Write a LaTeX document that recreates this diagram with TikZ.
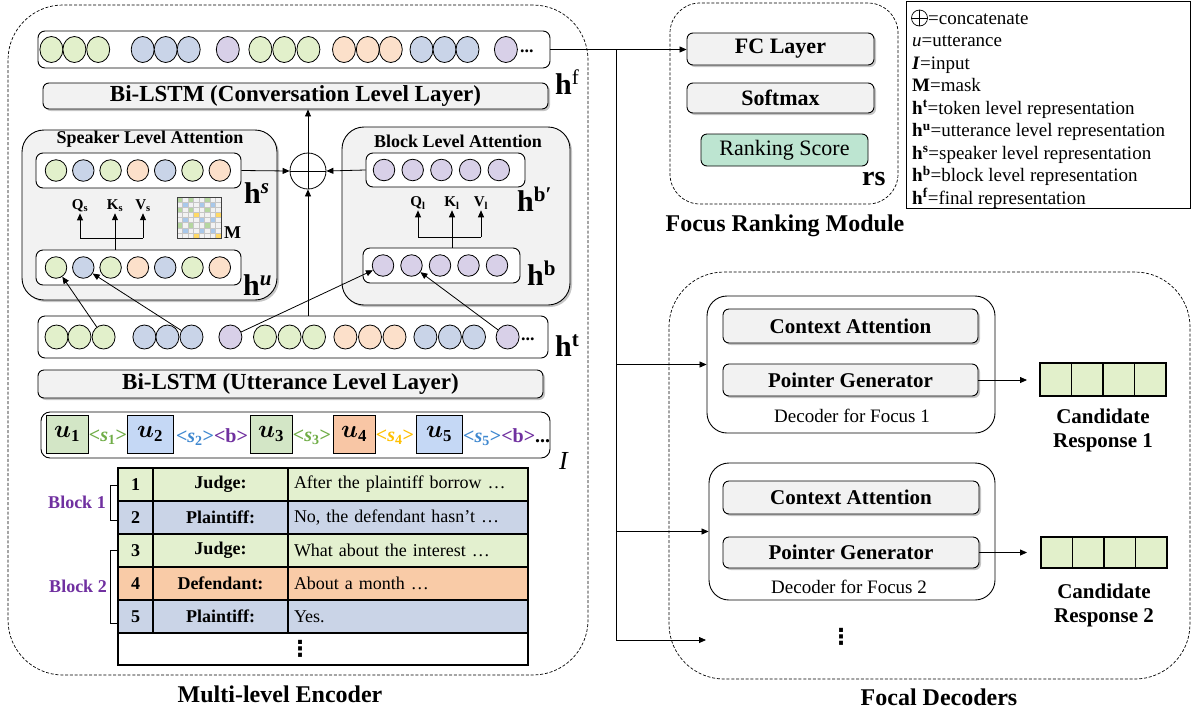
\documentclass[tikz,border=0pt]{standalone}
\usepackage{fontspec}
\setmainfont{Liberation Serif}
\newfontfamily\dvfont{DejaVu Sans}
\usepackage{amsmath}
\usetikzlibrary{arrows.meta,shadows,shapes.geometric,calc}
\definecolor{cgreen}{HTML}{E2F0CB}
\definecolor{cblue}{HTML}{C9D4E8}
\definecolor{cpurple}{HTML}{D8D0E8}
\definecolor{corange}{HTML}{FCE0CA}
\definecolor{boxgray}{HTML}{F2F2F2}
\definecolor{ugreen}{HTML}{D3E6C6}
\definecolor{ublue}{HTML}{C5D8F5}
\definecolor{uorange}{HTML}{F8C6A5}
\definecolor{tgreen}{HTML}{E3F0CF}
\definecolor{tblue}{HTML}{CAD4E7}
\definecolor{torange}{HTML}{F9CBA7}
\definecolor{rankc}{HTML}{BDE5D1}
\definecolor{sgreen}{HTML}{70AD47}
\definecolor{sblue}{HTML}{3F88D0}
\definecolor{spurple}{HTML}{7030A0}
\definecolor{syellow}{HTML}{FFC000}
\definecolor{mgreen}{HTML}{B5D6A0}
\definecolor{mblue}{HTML}{A9C8EA}
\definecolor{myellow}{HTML}{FFD966}
\newcommand\fsz[2]{\fontsize{#1}{#2}\selectfont}
\newcommand\hlab[1]{\textbf{h}\textsuperscript{#1}}
\tikzset{
  arr/.style={-{Triangle[length=7pt,width=6pt]}, line width=0.8pt},
  dashbox/.style={draw, dash pattern=on 3pt off 1.8pt, line width=0.7pt, inner sep=0pt},
  shad/.style={drop shadow={shadow xshift=2pt, shadow yshift=-2pt, fill=black!50, opacity=0.45}},
  graybox/.style={draw, fill=boxgray, rounded corners=6pt, line width=0.9pt, inner sep=0pt, shad, font={\fsz{22}{26}\bfseries}},
  rowbox/.style={draw, fill=white, rounded corners=7pt, line width=0.9pt, inner sep=0pt},
  attbox/.style={draw, fill=boxgray, rounded corners=22pt, line width=0.9pt, inner sep=0pt, shad},
  decbox/.style={draw, fill=white, rounded corners=20pt, line width=0.9pt, inner sep=0pt},
  fdot/.style={ellipse, draw, line width=0.8pt, minimum width=23pt, minimum height=26pt, inner sep=0pt},
  tdot/.style={ellipse, draw, line width=0.8pt, minimum width=23pt, minimum height=24pt, inner sep=0pt},
  sdot/.style={circle, draw, line width=0.8pt, minimum size=21.5pt, inner sep=0pt},
  ubox/.style={draw, line width=1pt, minimum height=38pt, inner sep=0pt, font={\fsz{24}{24}}},
  cell/.style={draw, line width=1.1pt, minimum height=33pt, inner sep=0pt, font={\fsz{18}{20}}},
  rcell/.style={draw, fill=cgreen, line width=1.1pt, minimum width=31.5pt, inner sep=0pt},
  lab/.style={anchor=base west, inner sep=0pt},
  hl/.style={lab, font={\fsz{30}{30}}},
  tag/.style={inner sep=0pt, font={\fsz{20}{20}\bfseries}},
  qkv/.style={inner sep=1pt, font={\fsz{15}{15}\bfseries}},
  lg/.style={lab, font={\fsz{19}{22}}},
  title/.style={font={\fsz{24}{26}\bfseries}, inner sep=0pt},
  sub/.style={font={\fsz{18}{20}\bfseries}, inner sep=0pt},
  vd/.style={inner sep=0pt, font={\dvfont\bfseries\fsz{22}{22}}},
}
\begin{document}
\begin{tikzpicture}[x=1pt,y=-1pt]
\useasboundingbox (0,0) rectangle (1194,713);

% ================= Encoder frame =================
\node[dashbox, rounded corners=55pt, minimum width=580pt, minimum height=670pt] (enc) at (298,340) {};
\node[title] (enclab) at (280,694) {Multi-level Encoder};

% h^f row
\node[rowbox, minimum width=512pt, minimum height=37pt] (hf) at (294,49.5) {};
\foreach \x/\c [count=\i] in {51.4/cgreen,74.4/cgreen,98.2/cgreen,142.7/cblue,165.7/cblue,188.7/cblue,227.8/cpurple,260.4/cgreen,284.2/cgreen,308.4/cgreen,344/corange,367.8/corange,390.8/corange,421.5/cblue,444.5/cblue,467.5/cblue,505.9/cpurple}
  \node[fdot, fill=\c] (f\i) at (\x,49.5) {};
\node[lab, font={\fsz{18}{18}\bfseries}] (fdots) at (520,52) {...};
\node[hl] (hflab) at (555,94) {\hlab{f}};

\node[graybox, font={\fsz{23}{26}\bfseries}, minimum width=505pt, minimum height=26pt] (conv) at (295.5,96) {Bi-LSTM (Conversation Level Layer)};

% Speaker level attention
\node[attbox, minimum width=255pt, minimum height=170pt] (spk) at (149.5,215) {};
\node[sub] (spkt) at (150,139) {Speaker Level Attention};
\node[rowbox, minimum width=205pt, minimum height=35pt] (hs) at (138.5,170.5) {};
\foreach \c [count=\i] in {cgreen,cblue,cgreen,corange,cblue,cgreen,corange}
  \node[sdot, fill=\c] (s\i) at ({56+27.3*(\i-1)},170.5) {};
\node[hl] (hslab) at (244,203) {\hlab{\textbf{\textit{s}}}};
\node[rowbox, minimum width=205pt, minimum height=35pt] (hu) at (138.5,267.5) {};
\foreach \c [count=\i] in {cgreen,cblue,cgreen,corange,cblue,cgreen,corange}
  \node[sdot, fill=\c] (u\i) at ({56+27.3*(\i-1)},267.5) {};
\node[hl] (hulab) at (243,295) {\hlab{\textbf{\textit{u}}}};
\node[qkv] (Qs) at (80,206) {Q\textsubscript{s}};
\node[qkv] (Ks) at (115,206) {K\textsubscript{s}};
\node[qkv] (Vs) at (143,206) {V\textsubscript{s}};
\coordinate (sq) at (80,238);
\coordinate (sk) at (115,238);
\coordinate (sv) at (143,238);
\draw[line width=0.8pt] (hu.north -| sk) -- (sk);
\draw[line width=0.8pt] (sq) -- (sv);
\draw[arr] (sq) -- (sq |- Qs.south);
\draw[arr] (sk) -- (sk |- Ks.south);
\draw[arr] (sv) -- (sv |- Vs.south);
% mask
\foreach \i in {1,...,8}{
  \foreach \j in {1,...,8}{
    \pgfmathtruncatemacro\spa{{1,2,1,3,2,1,2,3}[\i-1]}
    \pgfmathtruncatemacro\spb{{1,2,1,3,2,1,2,3}[\j-1]}
    \ifnum\spa=\spb
      \ifcase\spa\or\def\mc{mgreen}\or\def\mc{mblue}\or\def\mc{myellow}\fi
      \fill[\mc] ({177+5.5*(\j-1)},{197+5.125*(\i-1)}) rectangle ++(5.5,5.125);
    \fi
  }
}
\foreach \k in {1,...,7}{
  \draw[gray!45, line width=0.3pt] ({177+5.5*\k},197) -- ({177+5.5*\k},238);
  \draw[gray!45, line width=0.3pt] (177,{197+5.125*\k}) -- (221,{197+5.125*\k});
}
\draw[black!75, line width=0.5pt] (177,197) rectangle (221,238);
\node[lab, font={\fsz{18}{18}\bfseries}] (mlab) at (224,238) {M};

% Block level attention
\node[attbox, minimum width=228pt, minimum height=178pt] (blk) at (456,216) {};
\node[sub] (blkt) at (458,141) {Block Level Attention};
\node[rowbox, minimum width=159pt, minimum height=34pt] (hbp) at (445.5,170) {};
\foreach \i in {1,...,5}
  \node[sdot, fill=cpurple] (p\i) at ({384+28.7*(\i-1)},170) {};
\node[hl] (hbplab) at (517,211) {\hlab{\textbf{b\char"2032}}};
\node[rowbox, minimum width=157pt, minimum height=35pt] (hb) at (441.5,265.5) {};
\foreach \i in {1,...,5}
  \node[sdot, fill=cpurple] (b\i) at ({383+28.5*(\i-1)},265.5) {};
\node[hl] (hblab) at (527,285) {\hlab{\textbf{b}}};
\node[qkv] (Ql) at (418,203) {Q\textsubscript{l}};
\node[qkv] (Kl) at (452,203) {K\textsubscript{l}};
\node[qkv] (Vl) at (481,203) {V\textsubscript{l}};
\coordinate (bq) at (418,237);
\coordinate (bk) at (452,237);
\coordinate (bv) at (481,237);
\draw[line width=0.8pt] (hb.north -| bk) -- (bk);
\draw[line width=0.8pt] (bq) -- (bv);
\draw[arr] (bq) -- (bq |- Ql.south);
\draw[arr] (bk) -- (bk |- Kl.south);
\draw[arr] (bv) -- (bv |- Vl.south);

% h^t row
\node[rowbox, minimum width=510pt, minimum height=42pt] (ht) at (293,337) {};
\foreach \x/\c [count=\i] in {56.5/cgreen,79.5/cgreen,103.6/cgreen,144.4/cblue,167.4/cblue,191.5/cblue,230.4/cpurple,265/cgreen,289.6/cgreen,314/cgreen,345.4/corange,370/corange,394.5/corange,425.4/cblue,449.9/cblue,474/cblue,507.6/cpurple}
  \node[tdot, fill=\c] (t\i) at (\x,337) {};
\node[lab, font={\fsz{18}{18}\bfseries}] (tdots) at (521,340) {...};
\node[hl] (htlab) at (555,356) {\hlab{\textbf{t}}};

% concatenation
\node[circle, draw, line width=0.8pt, minimum size=36pt, inner sep=0pt] (cat) at (308,171) {};
\draw[line width=0.8pt] (cat.north) -- (cat.south);
\draw[line width=0.8pt] (cat.west) -- (cat.east);
\draw[arr] (hs.east) -- (cat.west);
\draw[arr] (hbp.west) -- (cat.east);
\draw[arr] (cat.south |- ht.north) -- (cat.south);
\draw[arr] (cat.north) -- (cat.north |- conv.south);

% h^t -> attention
\draw[arr] (t3) -- (u1);
\draw[arr] (t6) -- (u2);
\draw[arr] (t7) -- (b1);
\draw[arr] (t17) -- (b2);

\node[graybox, font={\fsz{23}{26}\bfseries}, minimum width=505pt, minimum height=28pt] (utt) at (290.5,384) {Bi-LSTM (Utterance Level Layer)};

% Input row
\node[rowbox, rounded corners=9pt, minimum width=509pt, minimum height=46pt] (inp) at (295.5,435) {};
\node[ubox, fill=ugreen, minimum width=42pt] (ub1) at (67,434) {$\boldsymbol{u}_{\mathbf{1}}$};
\node[ubox, fill=ublue, minimum width=46pt] (ub2) at (150,434) {$\boldsymbol{u}_{\mathbf{2}}$};
\node[ubox, fill=ugreen, minimum width=42pt] (ub3) at (271,434) {$\boldsymbol{u}_{\mathbf{3}}$};
\node[ubox, fill=uorange, minimum width=42pt] (ub4) at (354,434) {$\boldsymbol{u}_{\mathbf{4}}$};
\node[ubox, fill=ublue, minimum width=46pt] (ub5) at (439,434) {$\boldsymbol{u}_{\mathbf{5}}$};
\node[tag, text=sgreen] (tg1) at (108,437) {<\textit{s}\textsubscript{1}>};
\node[tag] (tg2) at (212,437) {\textcolor{sblue}{<\textit{s}\textsubscript{2}>}\textcolor{spurple}{<b>}};
\node[tag, text=sgreen] (tg3) at (312,437) {<\textit{s}\textsubscript{3}>};
\node[tag, text=syellow] (tg4) at (395,437) {<\textit{s}\textsubscript{4}>};
\node[tag, anchor=west] (tg5) at (463,437) {\textcolor{sblue}{<\textit{s}\textsubscript{5}>}\textcolor{spurple}{<b>}...};
\node[lab, font={\fsz{26}{26}\itshape}] (ilab) at (559,469) {I};

% Table
\foreach \r/\c/\n/\s/\t in {1/tgreen/1/Judge:/{After the plaintiff borrow …},2/tblue/2/Plaintiff:/{No, the defendant hasn’t …},3/tgreen/3/Judge:/{What about the interest …},4/torange/4/Defendant:/{About a month …},5/tblue/5/Plaintiff:/{Yes.}}{
  \node[cell, fill=\c, minimum width=35pt] (n\r) at (135.5,{484.5+33*(\r-1)}) {\textbf{\n}};
  \node[cell, fill=\c, minimum width=135pt] (sp\r) at (220.5,{484.5+33*(\r-1)}) {\textbf{\s}};
  \node[cell, fill=\c, minimum width=240pt, text width=228pt, inner xsep=6pt, align=left] (tx\r) at (408,{484.5+33*(\r-1)}) {\t};
}
\node[cell, fill=white, minimum width=410pt, minimum height=32pt] (trow) at (323,649) {};
\node[vd] (tvd) at (300,649) {⋮};
\draw[line width=0.8pt] (117,485) -- (110,485) -- (110,520) -- (117,520);
\draw[line width=0.8pt] (117,550) -- (110,550) -- (110,623) -- (117,623);
\node[sub, text=spurple] (blk1) at (77,502) {Block 1};
\node[sub, text=spurple] (blk2) at (78,586) {Block 2};

% ================= Focus ranking module =================
\node[dashbox, rounded corners=30pt, minimum width=228pt, minimum height=201pt] (frm) at (784,103.5) {};
\node[graybox, minimum width=187pt, minimum height=32pt] (fc) at (780.5,49) {FC Layer};
\node[graybox, minimum width=187pt, minimum height=30pt] (sm) at (780.5,98) {Softmax};
\node[draw, fill=rankc, rounded corners=6pt, line width=0.9pt, minimum width=167pt, minimum height=32pt, font={\fsz{22}{26}}] (rank) at (784.5,150) {Ranking Score};
\node[lab, font={\fsz{28}{28}\bfseries}] (rslab) at (862,185) {rs};
\node[title] (frmlab) at (785,226) {Focus Ranking Module};

% trunk
\coordinate (trunkTop) at (616,49.5);
\coordinate (trunkBot) at (616,640);
\coordinate (dec3in) at (706,640);
\draw[arr] (hf.east) -- (hf.east -| fc.west);
\draw[line width=0.8pt] (trunkTop) -- (trunkBot);

% ================= Focal decoders =================
\node[dashbox, rounded corners=55pt, minimum width=521pt, minimum height=407pt] (fd) at (929.5,475.5) {};
\node[title] (fdlab) at (939,697) {Focal Decoders};

\node[decbox, minimum width=288pt, minimum height=137pt] (dec1) at (851,364.5) {};
\node[graybox, font={\fsz{21}{24}\bfseries}, minimum width=255pt, minimum height=34pt] (ca1) at (850.5,326) {Context Attention};
\node[graybox, font={\fsz{21}{24}\bfseries}, minimum width=255pt, minimum height=32pt] (pg1) at (850.5,380) {Pointer Generator};
\node[inner sep=0pt, font={\fsz{19}{22}}] (d1lab) at (852,416) {Decoder for Focus 1};

\node[decbox, minimum width=286pt, minimum height=137pt] (dec2) at (852,531.5) {};
\node[graybox, font={\fsz{21}{24}\bfseries}, minimum width=256pt, minimum height=33pt] (ca2) at (851,497.5) {Context Attention};
\node[graybox, font={\fsz{21}{24}\bfseries}, minimum width=256pt, minimum height=31pt] (pg2) at (851,552.5) {Pointer Generator};
\node[inner sep=0pt, font={\fsz{19}{22}}] (d2lab) at (849,587) {Decoder for Focus 2};

\node[vd] (dvd) at (841,637) {⋮};

\draw[arr] (trunkTop |- dec1.west) -- (dec1.west);
\draw[arr] (trunkTop |- dec2.west) -- (dec2.west);
\draw[arr] (trunkBot) -- (dec3in);

% responses
\foreach \k in {1,...,4}{
  \node[rcell, minimum height=33pt] (ra\k) at ({1055.75+31.5*(\k-1)},379.5) {};
  \node[rcell, minimum height=31pt] (rb\k) at ({1056.75+31.5*(\k-1)},552.5) {};
}
\coordinate (r1in) at (1027,380);
\coordinate (r2in) at (1027,552.5);
\draw[arr] (pg1.east) -- (r1in);
\draw[arr] (pg2.east) -- (r2in);
\node[align=center, inner sep=0pt, font={\fsz{21}{24}\bfseries}] (cr1) at (1103,430) {Candidate\\Response 1};
\node[align=center, inner sep=0pt, font={\fsz{21}{24}\bfseries}] (cr2) at (1104,605) {Candidate\\Response 2};

% ================= Legend =================
\node[draw, line width=1pt, minimum width=284pt, minimum height=207pt, inner sep=0pt] (leg) at (1048,104.5) {};
\node[circle, draw, line width=0.7pt, minimum size=16pt, inner sep=0pt] (lgcat) at (919.5,18) {};
\draw[line width=0.7pt] (lgcat.north) -- (lgcat.south);
\draw[line width=0.7pt] (lgcat.west) -- (lgcat.east);
\node[lg] (lg1) at (928,24) {=concatenate};
\node[lg] (lg2) at (912,46.5) {\textit{u}=utterance};
\node[lg] (lg3) at (912,69) {\textbf{\textit{I}}=input};
\node[lg] (lg4) at (912,91.5) {\textbf{M}=mask};
\node[lg] (lg5) at (912,114) {\hlab{\textbf{t}}=token level representation};
\node[lg] (lg6) at (912,136.5) {\hlab{\textbf{u}}=utterance level representation};
\node[lg] (lg7) at (912,159) {\hlab{\textbf{s}}=speaker level representation};
\node[lg] (lg8) at (912,181.5) {\hlab{\textbf{b}}=block level representation};
\node[lg] (lg9) at (912,204) {\hlab{\textbf{f}}=final representation};
\end{tikzpicture}
\end{document}
